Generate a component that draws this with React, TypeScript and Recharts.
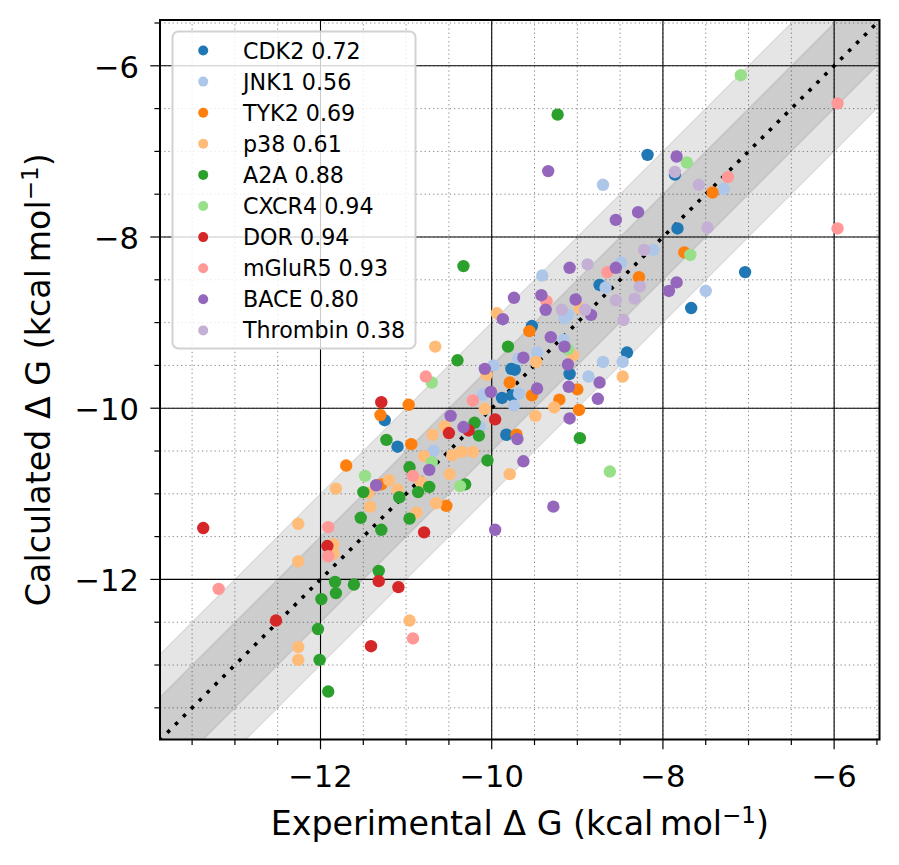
import React from "react";
import {
  ComposedChart,
  Area,
  Line,
  Scatter,
  XAxis,
  YAxis,
  CartesianGrid,
  ReferenceArea,
} from "recharts";

const XMIN = -13.875;
const XMAX = -5.47;
const YMIN = -13.87;
const YMAX = -5.465;

const MAJOR_TICKS = [-12, -10, -8, -6];
const MINOR_TICKS = [
  -13.5, -13, -12.5, -12, -11.5, -11, -10.5, -10, -9.5, -9, -8.5, -8, -7.5,
  -7, -6.5, -6, -5.5,
];

// [experimental, calculated]
const cdk2 = [
  [-9.53, -9.04], [-9.77, -9.54], [-9.73, -9.55], [-9.09, -9.6], [-8.42, -9.35],
  [-9.83, -10.31], [-9.88, -9.88], [-9.76, -9.85], [-11.25, -10.14], [-11.1, -10.45],
  [-8.74, -8.56], [-8.18, -7.04], [-7.86, -7.27], [-7.83, -7.9], [-7.04, -8.41],
  [-7.67, -8.83],
];
const jnk1 = [
  [-8.7, -7.39], [-9.41, -8.45], [-8.49, -8.3], [-8.67, -8.59], [-9.11, -8.91],
  [-9.15, -8.95], [-9.16, -9.2], [-9.98, -9.5], [-9.69, -9.42], [-9.47, -9.35],
  [-8.87, -9.63], [-8.7, -9.46], [-8.47, -9.46], [-9.68, -9.83], [-9.74, -9.97],
  [-10.1, -9.84], [-10.14, -10.22], [-10.68, -10.5], [-7.29, -7.44], [-8.11, -8.15],
  [-7.5, -8.63],
];
const tyk2 = [
  [-8.28, -8.47], [-9.56, -9.1], [-9.0, -9.78], [-9.21, -9.9], [-8.98, -10.02],
  [-9.71, -10.31], [-9.79, -9.7], [-9.53, -9.85], [-10.97, -9.96], [-11.3, -10.08],
  [-10.94, -10.42], [-10.53, -11.14], [-11.7, -10.67], [-11.29, -10.89],
  [-7.42, -7.48], [-7.75, -8.18],
];
const p38 = [
  [-8.97, -8.83], [-9.94, -8.89], [-9.05, -9.38], [-10.66, -9.28], [-9.48, -9.46],
  [-10.06, -9.61], [-8.47, -9.63], [-9.27, -9.99], [-9.49, -10.09], [-9.79, -10.77],
  [-10.08, -10.01], [-10.55, -10.21], [-10.69, -10.31], [-10.79, -10.56],
  [-10.35, -10.51], [-10.22, -10.51], [-10.46, -10.55], [-11.2, -10.84],
  [-10.49, -10.77], [-11.1, -10.95], [-10.65, -11.11], [-10.88, -11.22],
  [-11.44, -10.99], [-11.82, -10.94], [-11.42, -11.15], [-12.26, -11.35],
  [-11.85, -11.59], [-11.85, -11.7], [-12.26, -11.79], [-10.96, -12.48],
  [-12.26, -12.79], [-12.26, -12.94], [-10.83, -10.86],
];
const a2a = [
  [-9.23, -6.57], [-10.33, -8.34], [-9.81, -9.28], [-10.4, -9.44], [-8.97, -10.35],
  [-10.2, -10.17], [-10.15, -10.32], [-11.23, -10.37], [-10.96, -10.69],
  [-10.05, -10.61], [-10.31, -10.89], [-10.73, -10.92], [-10.86, -10.98],
  [-11.08, -11.04], [-11.5, -10.98], [-11.53, -11.28], [-11.29, -11.42],
  [-10.96, -11.29], [-11.32, -11.9], [-11.83, -12.03], [-11.61, -12.06],
  [-11.82, -12.16], [-11.99, -12.23], [-12.03, -12.58], [-12.01, -12.94],
  [-11.91, -13.31],
];
const cxcr4 = [
  [-9.11, -9.31], [-8.62, -10.74], [-10.7, -9.7], [-10.7, -10.63], [-10.37, -10.91],
  [-11.48, -10.79], [-7.09, -6.11], [-7.72, -7.13], [-7.68, -8.21],
];
const dor = [
  [-9.96, -10.13], [-11.29, -9.93], [-10.27, -10.26], [-10.5, -10.29],
  [-13.37, -11.4], [-10.79, -11.45], [-11.92, -11.61], [-11.32, -12.02],
  [-11.09, -12.09], [-12.52, -12.48], [-11.41, -12.78],
];
const mglur5 = [
  [-8.65, -8.41], [-9.36, -8.75], [-10.22, -9.91], [-10.77, -9.63], [-10.92, -10.79],
  [-11.91, -11.39], [-11.91, -11.73], [-13.19, -12.11], [-10.92, -12.69],
  [-5.96, -6.44], [-7.24, -7.3], [-5.96, -7.9],
];
const bace = [
  [-9.34, -7.23], [-8.55, -7.8], [-8.29, -7.71], [-9.09, -8.36], [-8.55, -8.36],
  [-9.74, -8.71], [-9.42, -8.68], [-9.37, -8.85], [-9.02, -8.73], [-8.84, -8.91],
  [-9.87, -8.96], [-9.31, -9.17], [-9.15, -9.28], [-9.63, -9.41], [-9.11, -9.49],
  [-8.74, -9.7], [-8.76, -9.89], [-9.1, -9.75], [-9.09, -10.12], [-9.28, -11.15],
  [-9.63, -10.62], [-9.7, -10.36], [-9.47, -9.77], [-10.01, -9.81], [-10.08, -9.54],
  [-10.48, -10.09], [-10.33, -10.22], [-10.73, -10.72], [-11.35, -10.9],
  [-7.84, -7.06], [-7.84, -8.53], [-7.93, -8.63], [-9.96, -11.42],
];
const thrombin = [
  [-8.88, -8.32], [-8.55, -8.74], [-8.33, -8.72], [-8.46, -8.97], [-8.27, -8.58],
  [-9.18, -8.85], [-8.91, -8.85], [-7.86, -7.24], [-7.58, -7.39], [-7.48, -7.89],
  [-8.22, -8.15],
];

const SERIES_NAMES = [
  "CDK2 0.72", "JNK1 0.56", "TYK2 0.69", "p38 0.61", "A2A 0.88",
  "CXCR4 0.94", "DOR 0.94", "mGluR5 0.93", "BACE 0.80", "Thrombin 0.38",
];
const SERIES_COLORS = [
  "#1f77b4", "#aec7e8", "#ff7f0e", "#ffbb78", "#2ca02c",
  "#98df8a", "#d62728", "#ff9896", "#9467bd", "#c5b0d5",
];
const SERIES_DATA = [cdk2, jnk1, tyk2, p38, a2a, cxcr4, dor, mglur5, bace, thrombin];

const FONT = "'DejaVu Sans', sans-serif";

// y = x reference with +/-1 and +/-0.5 bands
const refLine = [XMIN - 0.1, XMAX + 0.1].map((v) => ({
  x: v,
  diag: v,
  outer: [v - 1, v + 1],
  inner: [v - 0.5, v + 0.5],
}));

const fmt = (v: number) => (v < 0 ? "\u2212" + Math.abs(v) : String(v));

function XTick({ x, y, payload }: any) {
  const major = MAJOR_TICKS.includes(payload.value);
  return (
    <g>
      <line x1={x} x2={x} y1={y} y2={y + (major ? 9.7 : 5.6)} stroke="#000" strokeWidth={1.2} />
      {major && (
        <text x={x} y={y + 47.5} textAnchor="middle" fontSize={30.6} fontFamily={FONT} fill="#000">
          {fmt(payload.value)}
        </text>
      )}
    </g>
  );
}

function YTick({ x, y, payload }: any) {
  const major = MAJOR_TICKS.includes(payload.value);
  return (
    <g>
      <line x1={x} x2={x - (major ? 9.7 : 5.6)} y1={y} y2={y} stroke="#000" strokeWidth={1.2} />
      {major && (
        <text x={x - 21} y={y + 12} textAnchor="end" fontSize={30.6} fontFamily={FONT} fill="#000">
          {fmt(payload.value)}
        </text>
      )}
    </g>
  );
}

function AxisTitle({ x, y, rotate }: { x: number; y: number; rotate?: boolean }) {
  return (
    <text
      x={x}
      y={y}
      textAnchor="middle"
      fontSize={33.3}
      fontFamily={FONT}
      fill="#000"
      transform={rotate ? `rotate(-90 ${x} ${y})` : undefined}
    >
      {rotate ? "Calculated" : "Experimental"} {"\u0394"} G (kcal{"\u2009"}mol
      <tspan dy={-12} fontSize={23}>{"\u2212"}1</tspan>
      <tspan dy={12}>)</tspan>
    </text>
  );
}

function LegendBox() {
  return (
    <svg
      width={246}
      height={320}
      style={{ position: "absolute", left: 170.5, top: 29.5, overflow: "visible" }}
    >
      <rect x={1.5} y={1.5} width={243} height={317} rx={6} fill="#fff" fillOpacity={0.8} stroke="#d2d2d2" strokeWidth={2} />
      {SERIES_NAMES.map((name, i) => (
        <g key={name}>
          <circle cx={32.2} cy={20.5 + 31.1 * i} r={5} fill={SERIES_COLORS[i]} />
          <text x={72} y={28.5 + 31.1 * i} fontSize={22.2} fontFamily={FONT} fill="#000">
            {name}
          </text>
        </g>
      ))}
    </svg>
  );
}

export default function App() {
  return (
    <div style={{ position: "absolute", left: 0, top: 0, width: 899, height: 865, background: "#fff" }}>
      <ComposedChart
        width={899}
        height={865}
        data={refLine}
        margin={{ top: 20, right: 19.5, left: 0, bottom: 0 }}
      >
        <CartesianGrid
          verticalValues={MINOR_TICKS}
          horizontalValues={MINOR_TICKS}
          stroke="#8c8c8c"
          strokeWidth={1}
          strokeDasharray="1.3 2.9"
        />
        <CartesianGrid
          verticalValues={MAJOR_TICKS}
          horizontalValues={MAJOR_TICKS}
          stroke="#000"
          strokeWidth={1.1}
        />
        <XAxis
          dataKey="x"
          type="number"
          domain={[XMIN, XMAX]}
          allowDataOverflow
          ticks={MINOR_TICKS}
          interval={0}
          tickSize={0}
          tickMargin={0}
          tickLine={false}
          axisLine={false}
          tick={<XTick />}
          height={125.5}
        />
        <YAxis
          type="number"
          domain={[YMIN, YMAX]}
          allowDataOverflow
          ticks={MINOR_TICKS}
          interval={0}
          tickSize={0}
          tickMargin={0}
          tickLine={false}
          axisLine={false}
          tick={<YTick />}
          width={160}
        />
        <Area
          dataKey="outer"
          type="linear"
          fill="#000"
          fillOpacity={0.1}
          stroke="#000"
          strokeOpacity={0.08}
          strokeWidth={1.5}
          dot={false}
          activeDot={false}
          legendType="none"
          isAnimationActive={false}
        />
        <Area
          dataKey="inner"
          type="linear"
          fill="#000"
          fillOpacity={0.1}
          stroke="#000"
          strokeOpacity={0.08}
          strokeWidth={1.5}
          dot={false}
          activeDot={false}
          legendType="none"
          isAnimationActive={false}
        />
        <Line
          dataKey="diag"
          type="linear"
          stroke="#000"
          strokeWidth={3.6}
          strokeDasharray="3.6 7.6"
          dot={false}
          activeDot={false}
          legendType="none"
          isAnimationActive={false}
        />
        <ReferenceArea
          x1={XMIN}
          x2={XMAX}
          y1={YMIN}
          y2={YMAX}
          fill="none"
          stroke="#000"
          strokeWidth={2}
          ifOverflow="visible"
        />
        {SERIES_DATA.map((pts, i) => (
          <Scatter
            key={SERIES_NAMES[i]}
            name={SERIES_NAMES[i]}
            data={pts.map(([x, y]) => ({ x, y }))}
            dataKey="y"
            fill={SERIES_COLORS[i]}
            isAnimationActive={false}
            shape={(p: any) => <circle cx={p.cx} cy={p.cy} r={6.2} fill={SERIES_COLORS[i]} />}
          />
        ))}
      </ComposedChart>
      <svg width={899} height={865} style={{ position: "absolute", left: 0, top: 0, pointerEvents: "none" }}>
        <AxisTitle x={519.8} y={835} />
        <AxisTitle x={50} y={379.8} rotate />
      </svg>
      <LegendBox />
    </div>
  );
}
